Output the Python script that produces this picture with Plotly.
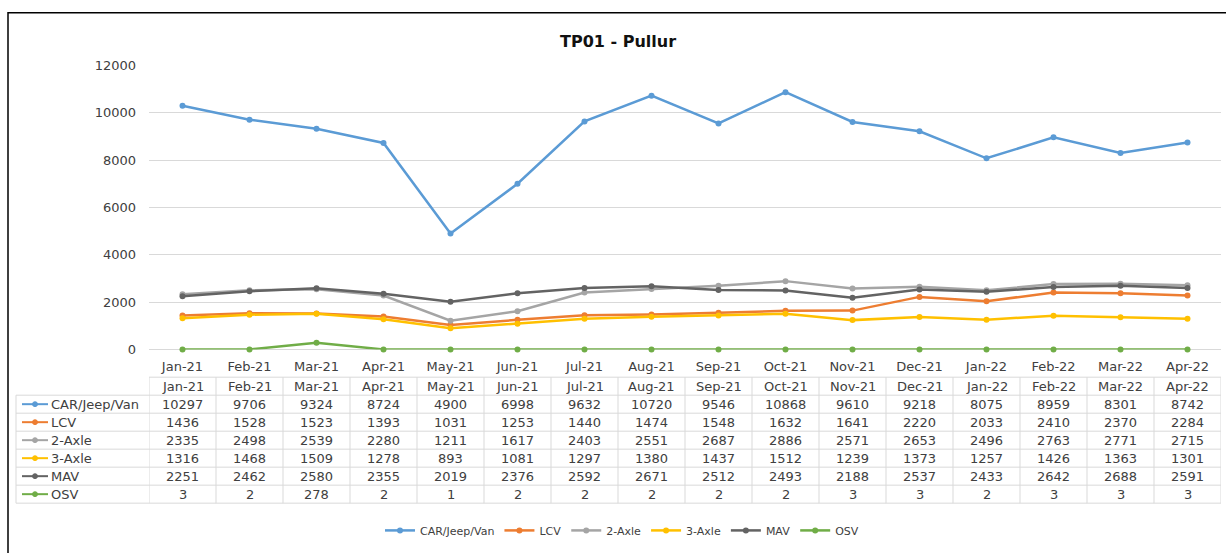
import plotly.graph_objects as go

months = ["Jan-21", "Feb-21", "Mar-21", "Apr-21", "May-21", "Jun-21", "Jul-21", "Aug-21",
          "Sep-21", "Oct-21", "Nov-21", "Dec-21", "Jan-22", "Feb-22", "Mar-22", "Apr-22"]
car = [10297, 9706, 9324, 8724, 4900, 6998, 9632, 10720, 9546, 10868, 9610, 9218, 8075, 8959, 8301, 8742]
lcv = [1436, 1528, 1523, 1393, 1031, 1253, 1440, 1474, 1548, 1632, 1641, 2220, 2033, 2410, 2370, 2284]
axle2 = [2335, 2498, 2539, 2280, 1211, 1617, 2403, 2551, 2687, 2886, 2571, 2653, 2496, 2763, 2771, 2715]
axle3 = [1316, 1468, 1509, 1278, 893, 1081, 1297, 1380, 1437, 1512, 1239, 1373, 1257, 1426, 1363, 1301]
mav = [2251, 2462, 2580, 2355, 2019, 2376, 2592, 2671, 2512, 2493, 2188, 2537, 2433, 2642, 2688, 2591]
osv = [3, 2, 278, 2, 1, 2, 2, 2, 2, 2, 3, 3, 2, 3, 3, 3]

series_names = ["CAR/Jeep/Van", "LCV", "2-Axle", "3-Axle", "MAV", "OSV"]
series_values = [car, lcv, axle2, axle3, mav, osv]
series_colors = ["#5B9BD5", "#ED7D31", "#A5A5A5", "#FFC000", "#636363", "#70AD47"]
y_ticks = [0, 2000, 4000, 6000, 8000, 10000, 12000]
title_text = "TP01 - Pullur"

W, H = 1226, 553
FONT = "DejaVu Sans"
TXT = "#404040"
GRID = "#D9D9D9"


def px(x):
    return x / W


def py(y):
    return 1 - y / H


# layout geometry (pixels)
plot_left, plot_right = 149, 1221
plot_top, plot_bottom = 60, 352
tab_top = 380.5
row_h = 18.5
key_x0, key_x1, tab_left = 22, 48, 16

fig = go.Figure()
for name, vals, col in zip(series_names, series_values, series_colors):
    fig.add_trace(go.Scatter(
        x=months, y=vals, name=name, mode="lines+markers",
        line=dict(color=col, width=2.5),
        marker=dict(color=col, size=6, symbol="circle"),
        cliponaxis=False,
    ))

shapes = []
annotations = []

# outer border
shapes.append(dict(type="rect", xref="paper", yref="paper",
                   x0=px(8), y0=-0.05, x1=1.05, y1=py(6),
                   line=dict(color="#000000", width=1.5)))

# title
annotations.append(dict(text="<b>" + title_text + "</b>", xref="paper", yref="paper",
                        x=px(618), y=py(35), showarrow=False, xanchor="center", yanchor="middle",
                        font=dict(family=FONT, size=16, color="#111111")))

# data table
n = len(months)
row_y = [tab_top + row_h * (i + 0.5) for i in range(len(series_names) + 1)]
tab_bottom = tab_top + row_h * (len(series_names) + 1)
first_row_top = tab_top + row_h

# horizontal lines
shapes.append(dict(type="line", xref="paper", yref="paper",
                   x0=px(plot_left), x1=px(plot_right), y0=py(tab_top), y1=py(tab_top),
                   line=dict(color=GRID, width=1)))
for i in range(len(series_names) + 1):
    yy = first_row_top + row_h * i
    shapes.append(dict(type="line", xref="paper", yref="paper",
                       x0=px(tab_left), x1=px(plot_right), y0=py(yy), y1=py(yy),
                       line=dict(color=GRID, width=1)))
# vertical lines
shapes.append(dict(type="line", xref="paper", yref="paper",
                   x0=px(tab_left), x1=px(tab_left), y0=py(first_row_top), y1=py(tab_bottom),
                   line=dict(color=GRID, width=1)))
for k in range(n + 1):
    shapes.append(dict(type="line", xref="x", yref="paper",
                       x0=k - 0.5, x1=k - 0.5, y0=py(tab_top), y1=py(tab_bottom),
                       line=dict(color=GRID, width=1)))

# header
for m in months:
    annotations.append(dict(text=m, xref="x", yref="paper", x=m, y=py(row_y[0]),
                            showarrow=False, xanchor="center", yanchor="middle",
                            font=dict(family=FONT, size=13, color=TXT)))
# rows
for r, (name, vals, col) in enumerate(zip(series_names, series_values, series_colors)):
    yc = row_y[r + 1]
    shapes.append(dict(type="line", xref="paper", yref="paper",
                       x0=px(key_x0), x1=px(key_x1), y0=py(yc), y1=py(yc),
                       line=dict(color=col, width=2)))
    cx = (key_x0 + key_x1) / 2
    shapes.append(dict(type="circle", xref="paper", yref="paper",
                       x0=px(cx - 2.5), x1=px(cx + 2.5), y0=py(yc + 2.5), y1=py(yc - 2.5),
                       fillcolor=col, line=dict(color=col, width=1)))
    annotations.append(dict(text=name, xref="paper", yref="paper", x=px(key_x1 + 1), y=py(yc),
                            showarrow=False, xanchor="left", yanchor="middle",
                            font=dict(family=FONT, size=13, color=TXT)))
    for m, v in zip(months, vals):
        annotations.append(dict(text=str(v), xref="x", yref="paper", x=m, y=py(yc),
                                showarrow=False, xanchor="center", yanchor="middle",
                                font=dict(family=FONT, size=13, color=TXT)))

fig.update_layout(
    width=W, height=H,
    margin=dict(l=0, r=0, t=0, b=0),
    paper_bgcolor="white", plot_bgcolor="white",
    font=dict(family=FONT, size=13, color=TXT),
    shapes=shapes, annotations=annotations,
    showlegend=True,
    legend=dict(orientation="h", x=px(622), xanchor="center", y=py(538), yanchor="middle",
                font=dict(family=FONT, size=11, color=TXT), itemwidth=30,
                bgcolor="rgba(0,0,0,0)"),
    xaxis=dict(domain=[px(plot_left), px(plot_right)], type="category",
               range=[-0.5, n - 0.5], showgrid=False, showline=False, zeroline=False,
               ticks="", ticklabelstandoff=8,
               tickfont=dict(family=FONT, size=13, color=TXT)),
    yaxis=dict(domain=[py(plot_bottom), py(plot_top)], range=[0, 12000],
               tickvals=y_ticks, tickformat="d", showgrid=True, gridcolor=GRID, gridwidth=1,
               zeroline=True, zerolinecolor=GRID, zerolinewidth=1,
               showline=False, ticks="", ticklabelstandoff=12,
               tickfont=dict(family=FONT, size=13, color=TXT)),
)

fig.write_html("out.html", config={"displayModeBar": False},
               post_script="document.body.style.margin='0';document.body.style.overflow='hidden';")
